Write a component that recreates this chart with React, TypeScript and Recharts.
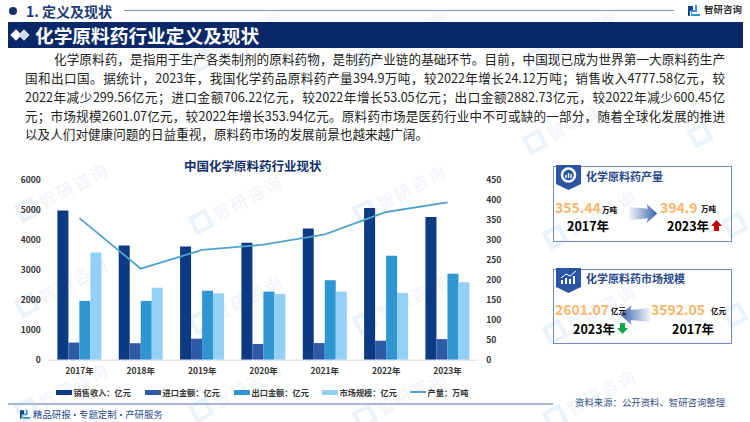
import React from "react";
import { ComposedChart, Bar, Line, XAxis, YAxis, Legend } from "recharts";

const years = ["2017年", "2018年", "2019年", "2020年", "2021年", "2022年", "2023年"];
const sales = [4990, 3830, 3790, 3920, 4390, 5077, 4777.58];
const imports = [590, 570, 720, 545, 575, 653.17, 706.22];
const exportsAmt = [1980, 1980, 2320, 2290, 2670, 3483.18, 2882.73];
const market = [3592.05, 2420, 2230, 2215, 2290, 2247.13, 2601.07];
const output = [355.44, 229, 276, 289, 315, 370.78, 394.9];
const leftTicks = [0, 1000, 2000, 3000, 4000, 5000, 6000];
const rightTicks = [0, 50, 100, 150, 200, 250, 300, 350, 400, 450];
const bodyLines = [
  "化学原料药，是指用于生产各类制剂的原料药物，是制药产业链的基础环节。目前，中国现已成为世界第一大原料药生产",
  "国和出口国。据统计，2023年，我国化学药品原料药产量394.9万吨，较2022年增长24.12万吨；销售收入4777.58亿元，较",
  "2022年减少299.56亿元；进口金额706.22亿元，较2022年增长53.05亿元；出口金额2882.73亿元，较2022年减少600.45亿",
  "元；市场规模2601.07亿元，较2022年增长353.94亿元。原料药市场是医药行业中不可或缺的一部分，随着全球化发展的推进",
  "以及人们对健康问题的日益重视，原料药市场的发展前景也越来越广阔。",
];
const chartData = years.map((year, i) => ({
  year,
  sales: sales[i],
  imports: imports[i],
  exportsAmt: exportsAmt[i],
  market: market[i],
  output: output[i],
}));

const FONT = '"Noto Sans CJK SC", "Noto Sans", sans-serif';
const NAVY = "#0a2868";
const ORANGE = "#fbb66c";

type TP = { x: number; y: number; s: number; c?: string; b?: boolean; children: React.ReactNode; ws?: number };
const T = ({ x, y, s, c = "#000", b = false, children, ws = 0 }: TP) => (
  <div
    style={{
      position: "absolute",
      left: x,
      top: y,
      transform: "translateY(-50%)",
      fontSize: s,
      lineHeight: 1.2,
      color: c,
      fontWeight: b ? 700 : 400,
      whiteSpace: "nowrap",
      wordSpacing: ws,
    }}
  >
    {children}
  </div>
);

const Box = ({ x, y, w, h, c, extra }: { x: number; y: number; w: number; h: number; c: string; extra?: React.CSSProperties }) => (
  <div style={{ position: "absolute", left: x, top: y, width: w, height: h, background: c, ...extra }} />
);

const markPositions = [
  [12, 178], [12, 273], [12, 378], [186, 28], [186, 190], [186, 290], [186, 378],
  [350, 28], [350, 180], [350, 290], [350, 385], [520, 28], [520, 110], [540, 205], [540, 300],
  [540, 385],
];
const markLogoOnly = [
  [690, 125], [725, 215], [725, 305],
];

const Watermark = ({ x, y, logoOnly }: { x: number; y: number; logoOnly?: boolean }) => (
  <div
    style={{
      position: "absolute",
      left: x,
      top: y,
      transform: "rotate(-28deg)",
      display: "flex",
      alignItems: "center",
      gap: 5,
      color: "#f0f3f8",
      fontSize: 17,
      letterSpacing: 2,
      whiteSpace: "nowrap",
    }}
  >
    <span style={{ width: 20, height: 20, border: "4px solid #eaf2fa", boxSizing: "border-box", display: "inline-block" }} />
    {logoOnly ? null : "智研咨询"}
  </div>
);

const legendItems = [
  { label: "销售收入：亿元", color: "#0d3a85", x: 56, kind: "bar" },
  { label: "进口金额：亿元", color: "#2f5aa8", x: 145, kind: "bar" },
  { label: "出口金额：亿元", color: "#2f95d3", x: 234, kind: "bar" },
  { label: "市场规模：亿元", color: "#93d0f5", x: 322, kind: "bar" },
  { label: "产量：万吨", color: "#4fa3cc", x: 410, kind: "line" },
];

const ChartLegend = () => (
  <div style={{ position: "relative", width: 540, height: 16 }}>
    {legendItems.map((it) => (
      <div key={it.label} style={{ position: "absolute", left: it.x, top: 0, display: "flex", alignItems: "center", height: 16 }}>
        <span
          style={{
            display: "inline-block",
            width: 16,
            height: it.kind === "bar" ? 5 : 2,
            background: it.color,
            marginRight: 1.5,
          }}
        />
        <span style={{ fontSize: 8.2, fontWeight: 700, color: "#333", whiteSpace: "nowrap" }}>{it.label}</span>
      </div>
    ))}
  </div>
);

const GradArrow = ({ x, y, w, h, dir, id }: { x: number; y: number; w: number; h: number; dir: "r" | "l"; id: string }) => (
  <svg style={{ position: "absolute", left: x, top: y }} width={w} height={h} viewBox="0 0 30 20">
    <defs>
      <linearGradient id={id} x1={dir === "r" ? "0" : "1"} x2={dir === "r" ? "1" : "0"} y1="0" y2="0">
        <stop offset="0" stopColor="#2f5aa8" stopOpacity="0.05" />
        <stop offset="1" stopColor="#2f5aa8" stopOpacity="0.95" />
      </linearGradient>
    </defs>
    <path
      d={dir === "r" ? "M0 3 L20 5 L19 0 L30 10 L19 20 L20 15 L0 17 Z" : "M30 3 L10 5 L11 0 L0 10 L11 20 L10 15 L30 17 Z"}
      fill={`url(#${id})`}
    />
  </svg>
);

const Ribbon = ({ x, y, children }: { x: number; y: number; children: React.ReactNode }) => (
  <svg style={{ position: "absolute", left: x, top: y }} width={25} height={25} viewBox="0 0 25 25">
    <path d="M0 0 H25 V19 L12.5 25 L0 19 Z" fill="#2a55a3" />
    {children}
  </svg>
);

const VArrow = ({ x, y, c, up }: { x: number; y: number; c: string; up: boolean }) => (
  <svg style={{ position: "absolute", left: x, top: y }} width={11} height={11} viewBox="0 0 11 11">
    <path d={up ? "M5.5 0 L11 6 H8 V11 H3 V6 H0 Z" : "M5.5 11 L11 5 H8 V0 H3 V5 H0 Z"} fill={c} />
  </svg>
);

const Card = ({ y, h }: { y: number; h: number }) => (
  <div style={{ position: "absolute", left: 553, top: y, width: 179, height: h, border: "1px solid #6e8bc4", boxSizing: "border-box" }} />
);

export default function App() {
  return (
    <div style={{ position: "absolute", left: 0, top: 0, width: 750, height: 422, overflow: "hidden", background: "#fff", fontFamily: FONT }}>
      {markPositions.map(([x, y], i) => (
        <Watermark key={i} x={x} y={y} />
      ))}
      {markLogoOnly.map(([x, y], i) => (
        <Watermark key={i} x={x} y={y} logoOnly />
      ))}

      {/* header */}
      <Box x={9} y={7} w={8} h={8} c="#12306a" extra={{ borderRadius: "50%" }} />
      <T x={26} y={10.5} s={14} c="#1b3b78" b>1. 定义及现状</T>
      <Box x={124} y={9.5} w={550} h={1} c="#7d97c7" />
      <svg style={{ position: "absolute", left: 688, top: 5 }} width={12} height={12} viewBox="0 0 12 12">
        <path d="M0 1 H5 V6 H2 V11 H0 Z" fill="#17418f" />
        <path d="M7 0 H9 V7 H4 V9 H12 V11 H3 V5 H7 Z" fill="#2f95d3" />
      </svg>
      <T x={704} y={10} s={9.5} c="#333" b>智研咨询</T>

      <Box x={8} y={22} w={735} h={26} c={NAVY} />
      <Box x={12} y={31} w={8} h={8} c="#fff" extra={{ transform: "rotate(45deg)" }} />
      <Box x={20} y={31} w={8} h={8} c="#d5dcec" extra={{ transform: "rotate(45deg)" }} />
      <T x={35} y={35} s={18.7} c="#fff" b>化学原料药行业定义及现状</T>

      {/* body text */}
      {bodyLines.map((line, i) => (
        <div
          key={i}
          style={{
            position: "absolute",
            left: i === 0 ? 54 : 25,
            top: 59 + i * 18.85,
            transform: "translateY(-50%)",
            width: i === 4 ? undefined : i === 0 ? 671 : 700,
            fontSize: 12.6,
            lineHeight: 1.2,
            color: "#222",
            whiteSpace: "nowrap",
            textAlign: i === 4 ? "left" : "justify",
            textAlignLast: i === 4 ? "left" : "justify",
          }}
        >
          {line}
        </div>
      ))}

      {/* chart */}
      <T x={184} y={165} s={12.5} c="#12306a" b>中国化学原料药行业现状</T>
      <div style={{ position: "absolute", left: 0, top: 151 }}>
        <ComposedChart
          width={540}
          height={250}
          data={chartData}
          margin={{ top: 29.3, right: 0, bottom: 4.7, left: 0 }}
          barGap={0}
          barCategoryGap="14%"
          style={{ fontFamily: FONT }}
        >
          <XAxis
            dataKey="year"
            axisLine={{ stroke: "#e4e6ea", strokeWidth: 1.5 }}
            tickLine={false}
            height={20}
            tick={{ fontSize: 8.5, fontWeight: 700, fill: "#333" }}
            interval={0}
          />
          <YAxis
            yAxisId="left"
            width={48.8}
            domain={[0, 6000]}
            ticks={leftTicks}
            axisLine={false}
            tickLine={false}
            tick={{ fontSize: 8.5, fontWeight: 700, fill: "#333" }}
          />
          <YAxis
            yAxisId="right"
            orientation="right"
            width={61.8}
            domain={[0, 450]}
            ticks={rightTicks}
            axisLine={false}
            tickLine={false}
            tick={{ fontSize: 8.5, fontWeight: 700, fill: "#333" }}
          />
          <Bar yAxisId="left" dataKey="sales" name="销售收入：亿元" fill="#0d3a85" isAnimationActive={false} />
          <Bar yAxisId="left" dataKey="imports" name="进口金额：亿元" fill="#2f5aa8" isAnimationActive={false} />
          <Bar yAxisId="left" dataKey="exportsAmt" name="出口金额：亿元" fill="#2f95d3" isAnimationActive={false} />
          <Bar yAxisId="left" dataKey="market" name="市场规模：亿元" fill="#93d0f5" isAnimationActive={false} />
          <Line
            yAxisId="right"
            type="linear"
            dataKey="output"
            name="产量：万吨"
            stroke="#4fa3cc"
            strokeWidth={1.8}
            dot={false}
            isAnimationActive={false}
          />
          <Legend content={<ChartLegend />} wrapperStyle={{ left: 0, top: 233, width: 540, height: 16 }} />
        </ComposedChart>
      </div>

      {/* card 1 */}
      <Card y={166} h={76} />
      <Ribbon x={556} y={165}>
        <circle cx="12.5" cy="10" r="6.5" fill="none" stroke="#fff" strokeWidth="2.5" />
        <path d="M10 13 V10 M12.5 13 V8 M15 13 V9" stroke="#fff" strokeWidth="1.4" />
      </Ribbon>
      <T x={586} y={177} s={11} c="#2a4a8c" b>化学原料药产量</T>
      <T x={555} y={207} s={14} c={ORANGE} b>355.44</T>
      <T x={602} y={209} s={7.5} b>万吨</T>
      <T x={567} y={225} s={12.5} b>2017年</T>
      <GradArrow x={628} y={204} w={30} h={19} dir="r" id="g1" />
      <T x={660} y={207} s={14} c={ORANGE} b>394.9</T>
      <T x={701} y={208} s={7.5} b>万吨</T>
      <T x={667} y={225} s={12.5} b>2023年</T>
      <VArrow x={711} y={220} c="#c00000" up />

      {/* card 2 */}
      <Card y={269} h={75} />
      <Ribbon x={556} y={268}>
        <path d="M6 16 V12 M10 16 V10 M14 16 V11 M18 16 V8" stroke="#fff" strokeWidth="2" />
        <path d="M5 10 L10 6 L14 8 L20 3" stroke="#fff" strokeWidth="1" fill="none" />
      </Ribbon>
      <T x={586} y={279} s={11} c="#2a4a8c" b>化学原料药市场规模</T>
      <T x={555} y={309} s={14} c={ORANGE} b>2601.07</T>
      <GradArrow x={620} y={305} w={31} h={20} dir="l" id="g2" />
      <T x={611} y={310} s={7.5} b>亿元</T>
      <T x={651} y={309} s={14} c={ORANGE} b>3592.05</T>
      <T x={711} y={310} s={7.5} b>亿元</T>
      <T x={573} y={328} s={12.5} b>2023年</T>
      <VArrow x={617} y={323} c="#12a84a" up={false} />
      <T x={672} y={328} s={12.5} b>2017年</T>

      {/* footer */}
      <Box x={8} y={403} w={545} h={2} c="#a9b7d9" />
      <svg style={{ position: "absolute", left: 20, top: 409 }} width={10} height={11} viewBox="0 0 12 12">
        <path d="M0 1 H5 V6 H2 V11 H0 Z" fill="#17418f" />
        <path d="M7 0 H9 V7 H4 V9 H12 V11 H3 V5 H7 Z" fill="#2f95d3" />
      </svg>
      <T x={33} y={415} s={9.4} c="#2a4a8c" ws={-2.5}>精品研报 · 专题定制 · 产研服务</T>
      <T x={575} y={403} s={9.4} c="#36507f">资料来源：公开资料、智研咨询整理</T>
    </div>
  );
}
